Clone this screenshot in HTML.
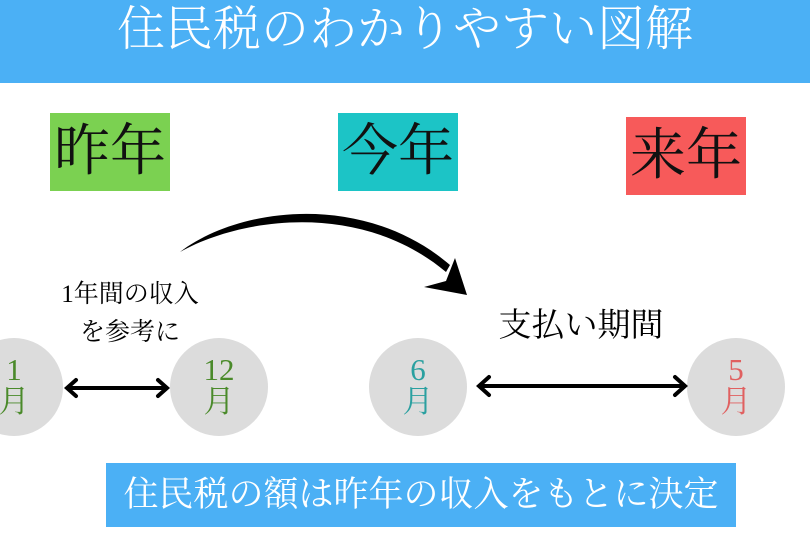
<!DOCTYPE html>
<html><head><meta charset="utf-8"><style>
body{margin:0;width:810px;height:540px;background:#fff;position:relative;overflow:hidden;font-family:"Liberation Serif","Noto Serif CJK SC",serif}
.a{position:absolute}
.hdr{left:0;top:0;width:810px;height:83px;background:#4bb0f5}
.title{left:0;top:2px;width:810px;text-align:center;color:#fff;font-size:48px;line-height:56px;font-weight:300}
.box{font-size:56px;line-height:78px;text-align:center;color:#111;width:120px;height:78px}
.c{width:98px;height:98px;border-radius:50%;background:#dcdcdc;text-align:center;font-size:31px;line-height:32px;box-sizing:border-box;padding-top:16px}
.bot{left:106px;top:463px;width:630px;height:64px;background:#4bb0f5;color:#fff;font-size:35px;line-height:64px;text-align:center}
</style></head><body>
<div class="a hdr"></div>
<div class="a title">住民税のわかりやすい図解</div>
<div class="a box" style="left:50px;top:113px;background:#7bd151">昨年</div>
<div class="a box" style="left:338px;top:113px;background:#1cc4c6">今年</div>
<div class="a box" style="left:626px;top:117px;background:#f75a5a">来年</div>
<div class="a c" style="left:-35px;top:338px;color:#4a8a2a">1<br>月</div>
<div class="a c" style="left:170px;top:338px;color:#4a8a2a">12<br>月</div>
<div class="a c" style="left:369px;top:338px;color:#2aa0a0">6<br>月</div>
<div class="a c" style="left:687px;top:338px;color:#e06060">5<br>月</div>
<div class="a" style="left:30px;top:276px;width:200px;text-align:center;font-size:25px;line-height:38px">1年間の収入<br>を参考に</div>
<div class="a" style="left:471px;top:304px;width:220px;text-align:center;font-size:33px;line-height:44px">支払い期間</div>
<svg class="a" style="left:0;top:0" width="810" height="540">
<g stroke="#000" stroke-width="4" fill="none" stroke-linecap="round">
<line x1="68" y1="388" x2="166" y2="388"/>
<polyline points="76,380 67,388 76,396"/><polyline points="158,380 167,388 158,396"/>
<line x1="480" y1="386" x2="684" y2="386"/>
<polyline points="489,377 479,386 489,395"/><polyline points="675,377 685,386 675,395"/>
</g>
<path d="M180,252 C240,218 360,200 446,272 L450,265 C365,192 240,206 180,252 Z" fill="#000"/>
<path d="M455,258 L467,295 L424,287 L446,281 Z" fill="#000"/>
</svg>
<div class="a bot">住民税の額は昨年の収入をもとに決定</div>
</body></html>
